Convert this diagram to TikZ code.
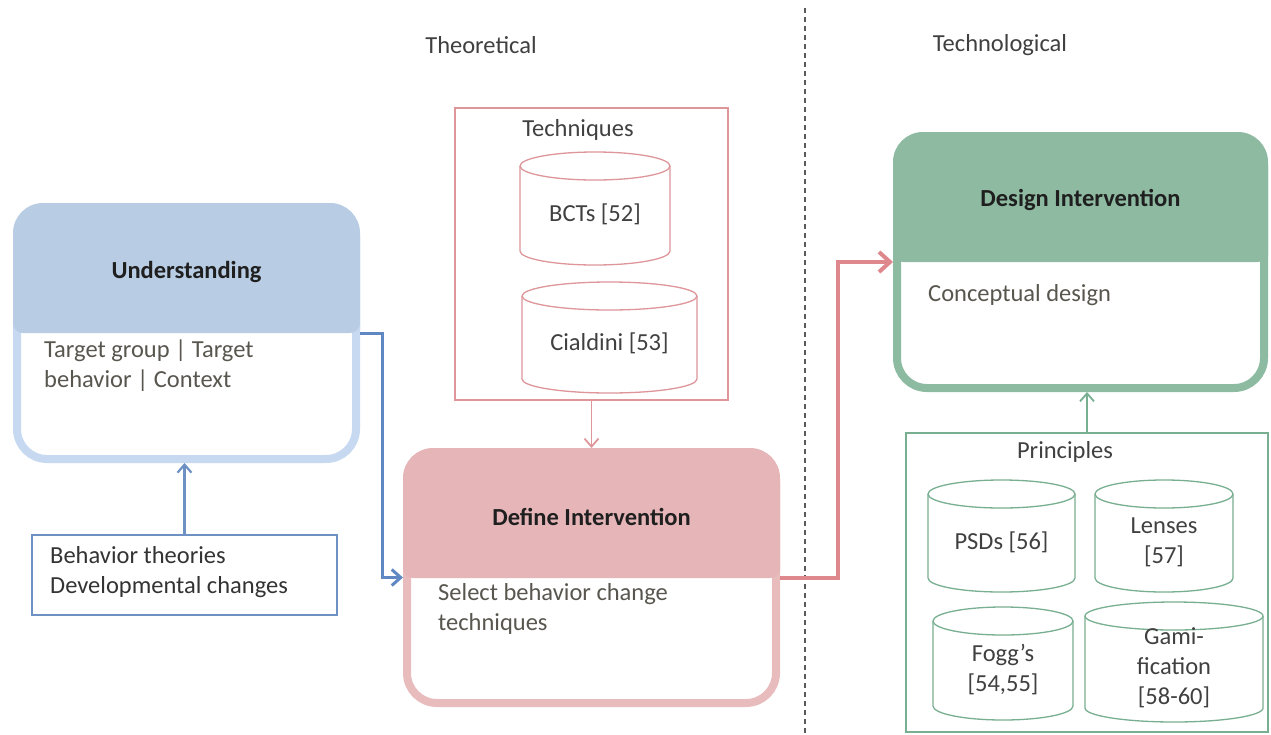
\documentclass[tikz,border=0pt]{standalone}
\usepackage{fontspec}
\setmainfont{Carlito}
\usetikzlibrary{arrows.meta}
\definecolor{ubord}{RGB}{198,217,241}
\definecolor{uhdr}{RGB}{184,204,228}
\definecolor{pbord}{RGB}{232,187,189}
\definecolor{phdr}{RGB}{229,181,184}
\definecolor{gbord}{RGB}{141,187,161}
\definecolor{ghdr}{RGB}{141,186,161}
\definecolor{bluearr}{RGB}{95,135,195}
\definecolor{bluethin}{RGB}{110,145,195}
\definecolor{pinkarr}{RGB}{222,135,140}
\definecolor{pinkthin}{RGB}{222,150,155}
\definecolor{greenthin}{RGB}{120,175,145}
\definecolor{bodygray}{RGB}{88,86,78}
\definecolor{dashgray}{RGB}{90,90,90}
\newcommand\dfont{\fontsize{24.5}{30}\selectfont}
\newcommand\mycyl[7]{%
  \pgfmathsetmacro\cylcx{(#3+#5)/2}%
  \pgfmathsetmacro\cylrx{(#5-#3)/2}%
  \pgfmathsetmacro\cylty{#4+14}%
  \pgfmathsetmacro\cylby{#6-14}%
  \pgfmathsetmacro\cylmy{(#4+#6)/2+6}%
  \draw[#1, fill=white] (#3,\cylty) -- (#3,\cylby)
    arc[start angle=180,end angle=0,x radius=\cylrx,y radius=14] -- (#5,\cylty)
    arc[start angle=0,end angle=-180,x radius=\cylrx,y radius=14] -- cycle;
  \draw[#1] (#3,\cylty) arc[start angle=180,end angle=0,x radius=\cylrx,y radius=14];
  \node[cyltext] (#2) at (\cylcx,\cylmy) {#7};
}
\begin{document}
\begin{tikzpicture}[x=1pt,y=-1pt,
  every node/.style={font=\dfont, inner sep=0pt},
  bigbox/.style={draw, line width=8pt, rounded corners=30pt, fill=white},
  hdrtext/.style={font=\dfont\bfseries, text=black!88},
  bodytext/.style={text=bodygray, align=left, anchor=base west},
  thinbox/.style={draw, line width=1.5pt, fill=white},
  cyltext/.style={text=black!75, align=center},
  pcyl/.style={draw=pinkthin, line width=1.3pt},
  gcyl/.style={draw=greenthin, line width=1.3pt},
  lbl/.style={text=black!75}
]
\useasboundingbox (0,0) rectangle (1271,734);
\fill[white] (0,0) rectangle (1271,734);

% divider
\coordinate (dtop) at (805,8);
\coordinate (dbot) at (805,734);
\draw[dashgray, line width=1.2pt, dash pattern=on 5pt off 4pt] (dtop) -- (dbot);
\node[lbl] (theo) at (481,45) {Theoretical};
\node[lbl] (techn) at (1000,45) {Technological};

% Understanding
\node[bigbox, draw=ubord, minimum width=339pt, minimum height=252pt] (und) at (186.5,333) {};
\fill[uhdr, rounded corners=30pt] (13,203) -- (360,203) -- (360,300) {[rounded corners=10pt] -- (360,333) -- (13,333)} -- (13,300) -- cycle;
\node[hdrtext] (undt) at (186.5,272) {Understanding};
\node[bodytext] (undb) at (44,387) {Target group | Target\\behavior | Context};

% Define Intervention
\node[bigbox, draw=pbord, minimum width=369pt, minimum height=251pt] (def) at (591.5,577.5) {};
\fill[phdr, rounded corners=30pt] (403,448) -- (780,448) -- (780,540) {[rounded corners=10pt] -- (780,578) -- (403,578)} -- (403,540) -- cycle;
\node[hdrtext] (deft) at (591.5,517) {Define Intervention};
\node[bodytext] (defb) at (438,630) {Select behavior change\\techniques};

% Design Intervention
\node[bigbox, draw=gbord, minimum width=367pt, minimum height=252pt] (des) at (1080.5,262) {};
\fill[ghdr, rounded corners=30pt] (893,132) -- (1268,132) -- (1268,225) {[rounded corners=10pt] -- (1268,262) -- (893,262)} -- (893,225) -- cycle;
\node[hdrtext] (dest) at (1080.5,200) {Design Intervention};
\node[bodytext] (desb) at (928,301) {Conceptual design};

% Behavior theories
\node[thinbox, draw=bluethin, minimum width=305pt, minimum height=80pt] (beh) at (184.5,575) {};
\node[bodytext, text=black!80] (beht) at (50,593) {Behavior theories\\Developmental changes};

% Techniques
\node[thinbox, draw=pinkthin, minimum width=273pt, minimum height=292pt] (tech) at (591.5,254) {};
\node[lbl, anchor=base] (techt) at (578,136) {Techniques};
\mycyl{pcyl}{bct}{520}{152}{670}{265}{BCTs [52]}
\mycyl{pcyl}{cia}{522}{282}{697}{393}{Cialdini [53]}

% Principles
\node[thinbox, draw=greenthin, minimum width=362pt, minimum height=299pt] (prin) at (1087,582.5) {};
\node[lbl, anchor=base] (print) at (1065,458) {Principles};
\mycyl{gcyl}{psd}{928}{480}{1075}{592}{PSDs [56]}
\mycyl{gcyl}{len}{1095}{480}{1233}{592}{Lenses\\\relax [57]}
\mycyl{gcyl}{fog}{933}{607}{1073}{720}{Fogg's\\\relax [54,55]}
\mycyl{gcyl}{gam}{1085}{602}{1263}{722}{Gami-\\fication\\\relax [58-60]}

% connectors
\draw[bluearr, line width=3pt, -{Straight Barb[length=9pt,width=16pt]}] (und.east) -- ++(22,0) |- (def.west);
\draw[pinkarr, line width=4pt, -{Straight Barb[length=11pt,width=20pt]}] (def.east) -- ++(58,0) |- (des.west);
\draw[pinkthin, line width=1.8pt, -{Straight Barb[length=8pt,width=14pt]}] (tech.south) -- (def.north);
\draw[greenthin, line width=1.8pt, -{Straight Barb[length=8pt,width=14pt]}] (prin.north) -- (prin.north |- des.south);
\draw[bluethin, line width=2.2pt, -{Straight Barb[length=8pt,width=14pt]}] (beh.north) -- (beh.north |- und.south);
\end{tikzpicture}
\end{document}
